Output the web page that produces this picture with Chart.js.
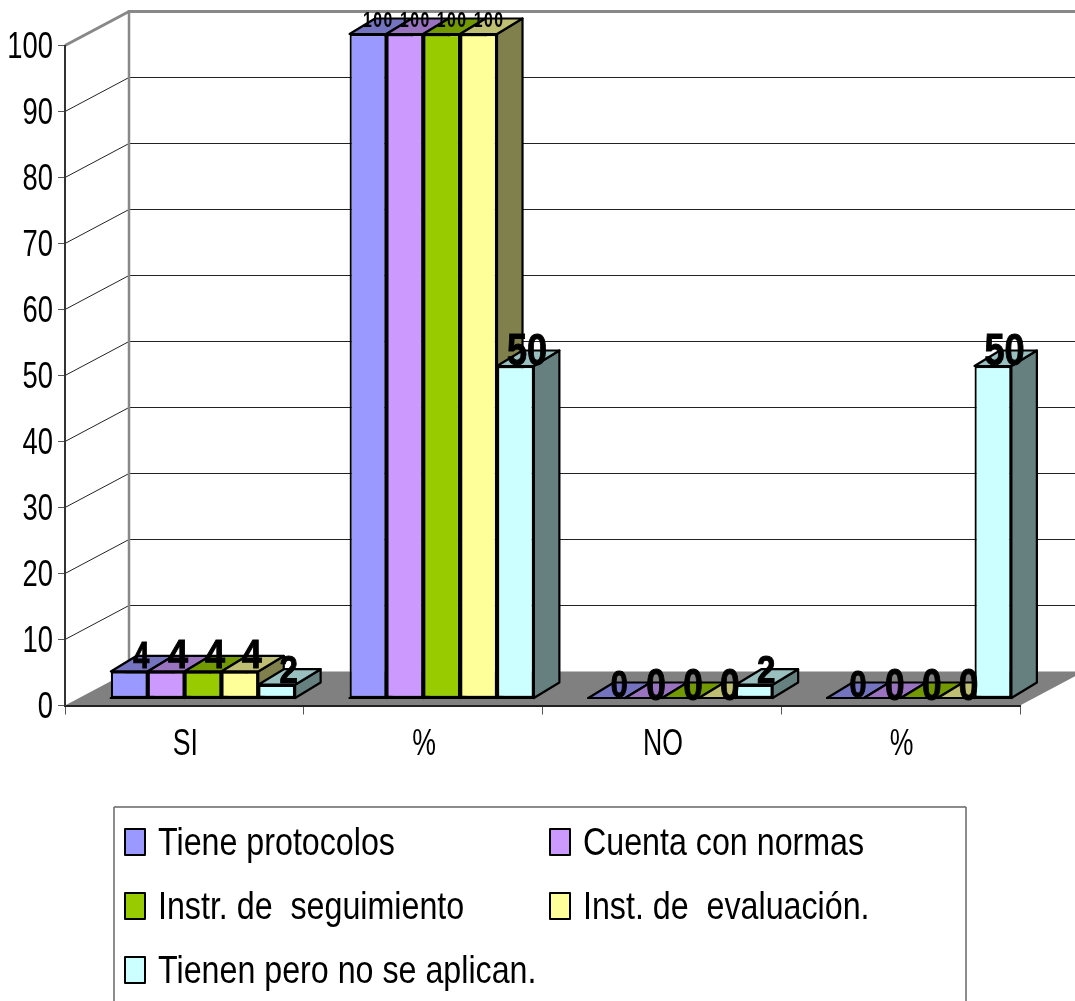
<!DOCTYPE html>
<html>
<head>
<meta charset="utf-8">
<style>html,body{margin:0;padding:0;background:#fff}canvas{display:block}</style>
<script src="https://cdn.jsdelivr.net/npm/chart.js@4"></script>
</head>
<body>
<canvas id="c" width="1075" height="1001"></canvas>
<script>
const categories = ['SI', '%', 'NO', '%'];
const tieneProtocolos = [4, 100, 0, 0];
const cuentaConNormas = [4, 100, 0, 0];
const instrSeguimiento = [4, 100, 0, 0];
const instEvaluacion = [4, 100, 0, 0];
const tienenNoAplican = [2, 50, 2, 50];
const seriesNames = ['Tiene protocolos', 'Cuenta con normas', 'Instr. de  seguimiento', 'Inst. de  evaluación.', 'Tienen pero no se aplican.'];
const seriesColors = ['#9999FF', '#CC99FF', '#99CC00', '#FFFF99', '#CCFFFF'];
const yTicks = [0, 10, 20, 30, 40, 50, 60, 70, 80, 90, 100];

const FONT = '"Liberation Sans", Arial, sans-serif';
const WALL = {dx: 64, dy: -34};        // depth of the chart box
const BAR = {dx: 18.6, dy: -7.5};      // where the bars sit on the floor
const DEPTH = {dx: 25.5, dy: -15.5};   // depth of each bar

function shade(hex, k) {
  const n = parseInt(hex.slice(1), 16);
  return 'rgb(' + [(n >> 16) & 255, (n >> 8) & 255, n & 255].map(v => Math.round(v * k)).join(',') + ')';
}
function squeezed(ctx, text, x, y, size, sx, align, bold, spacing) {
  ctx.save();
  ctx.translate(x, y);
  ctx.scale(sx, 1);
  ctx.font = (bold ? 'bold ' : '') + size + 'px ' + FONT;
  ctx.textAlign = align;
  ctx.textBaseline = 'alphabetic';
  ctx.fillStyle = '#000';
  if (spacing) ctx.letterSpacing = spacing + 'px';
  ctx.fillText(text, 0, 0);
  if (bold && !spacing) { ctx.strokeStyle = '#000'; ctx.lineWidth = 1; ctx.strokeText(text, 0, 0); }
  ctx.restore();
}
function poly(ctx, pts, fill, stroke, lw) {
  ctx.beginPath();
  pts.forEach((p, i) => i ? ctx.lineTo(p[0], p[1]) : ctx.moveTo(p[0], p[1]));
  ctx.closePath();
  if (fill) { ctx.fillStyle = fill; ctx.fill(); }
  if (stroke) { ctx.strokeStyle = stroke; ctx.lineWidth = lw; ctx.lineJoin = 'round'; ctx.stroke(); }
}
function line(ctx, x1, y1, x2, y2, color, lw) {
  ctx.beginPath(); ctx.moveTo(x1, y1); ctx.lineTo(x2, y2);
  ctx.strokeStyle = color; ctx.lineWidth = lw; ctx.stroke();
}
function labelStyle(value, ds) {
  if (value === 100) return {size: 22, sx: 0.72, off: 10.5, base: -7, spacing: 2};
  if (value === 50) return {size: 44, sx: 0.82, off: 11.5, base: -1};
  if (value === 4) return {size: ds === 0 ? 37 : 40, sx: ds === 0 ? 0.78 : 0.9, off: 12, base: -3};
  if (value === 2) return {size: 39, sx: 0.85, off: 12, base: -2};
  return {size: ds === 0 ? 36 : 44, sx: ds === 0 ? 0.85 : 0.8, off: 12.5, base: ds === 0 ? -1 : 2};
}

const box3d = {
  id: 'box3d',
  beforeDraw(chart) {
    const ctx = chart.ctx, y = chart.scales.y, a = chart.chartArea;
    const bottom = y.getPixelForValue(0), back = bottom + WALL.dy;
    ctx.save();
    poly(ctx, [[a.left, bottom], [a.right, bottom], [a.right + WALL.dx, back], [a.left + WALL.dx, back]], '#808080');
    y.ticks.forEach(t => {
      if (t.value === 0) return;
      const py = y.getPixelForValue(t.value);
      const top = t.value === 100;
      const c = top ? '#888' : '#222', w = top ? 3 : 1;
      line(ctx, a.left, py, a.left + WALL.dx, py + WALL.dy, c, w);
      line(ctx, a.left + WALL.dx, py + WALL.dy, 1075, py + WALL.dy, c, w);
    });
    line(ctx, a.left + WALL.dx, y.getPixelForValue(100) + WALL.dy - 1.5, a.left + WALL.dx, back, '#888', 2.5);
    ctx.restore();
  },
  beforeDatasetsDraw(chart) {
    // side and top faces, left to right; the library's bars then draw the front faces
    const ctx = chart.ctx, d = DEPTH;
    ctx.save();
    ctx.translate(BAR.dx, BAR.dy);
    chart.data.datasets.forEach((ds, di) => {
      const col = seriesColors[di];
      chart.getDatasetMeta(di).data.forEach(b => {
        const l = b.x - b.width / 2, r = b.x + b.width / 2, t = b.y, bt = b.base;
        poly(ctx, [[r, t], [r + d.dx, t + d.dy], [r + d.dx, bt + d.dy], [r, bt]], shade(col, 0.5), '#000', 2.2);
        poly(ctx, [[l, t], [l + d.dx, t + d.dy], [r + d.dx, t + d.dy], [r, t]], shade(col, 0.75), '#000', 2.2);
      });
    });
    ctx.restore();
  },
  beforeDatasetDraw(chart) {
    chart.ctx.save();
    chart.ctx.translate(BAR.dx, BAR.dy);
  },
  afterDatasetDraw(chart, args) {
    const ctx = chart.ctx;
    args.meta.data.forEach(b => {
      line(ctx, b.x - b.width / 2 - 1, b.base, b.x + b.width / 2 + 1, b.base, '#000', 2.2);
    });
    ctx.restore();
  },
  afterDraw(chart) {
    const ctx = chart.ctx, y = chart.scales.y, x = chart.scales.x;
    // axis labels
    y.ticks.forEach(t => squeezed(ctx, t.label, 53, y.getPixelForValue(t.value) + 12.5, 36, 0.76, 'right'));
    x.ticks.forEach((t, i) => squeezed(ctx, categories[i], x.getPixelForTick(i) + 1, 755, 36, 0.74, 'center'));
    // value labels
    chart.data.datasets.forEach((ds, di) => {
      chart.getDatasetMeta(di).data.forEach((b, i) => {
        const s = labelStyle(ds.data[i], di);
        squeezed(ctx, String(ds.data[i]), b.x + BAR.dx + s.off, b.y + BAR.dy + s.base, s.size, s.sx, 'center', true, s.spacing);
      });
    });
    // legend
    line(ctx, 114, 1001, 114, 807, '#666', 1.5);
    line(ctx, 114, 807, 966, 807, '#666', 1.5);
    line(ctx, 966, 807, 966, 1001, '#666', 1.5);
    const colX = [125, 550], rowY = [829, 893, 957];
    seriesNames.forEach((name, i) => {
      const sx = colX[i % 2], sy = rowY[Math.floor(i / 2)];
      poly(ctx, [[sx, sy], [sx + 20, sy], [sx + 20, sy + 26], [sx, sy + 26]], seriesColors[i], '#000', 2);
      squeezed(ctx, name, sx + 33, sy + 26, 39, 0.826, 'left');
    });
  }
};

new Chart(document.getElementById('c'), {
  type: 'bar',
  data: {
    labels: categories,
    datasets: [tieneProtocolos, cuentaConNormas, instrSeguimiento, instEvaluacion, tienenNoAplican].map((data, i) => ({
      label: seriesNames[i],
      data,
      yAxisID: 'yb',
      clip: false,
      backgroundColor: seriesColors[i],
      borderColor: '#000',
      borderWidth: 2.2,
      borderSkipped: false,
      categoryPercentage: 0.772,
      barPercentage: 1
    }))
  },
  plugins: [box3d],
  options: {
    responsive: false,
    animation: false,
    layout: {padding: {left: 0, top: 45.5, right: 55, bottom: 286.5}},
    plugins: {legend: {display: false}, tooltip: {enabled: false}},
    scales: {
      x: {
        type: 'category',
        afterFit: s => { s.height = 9; },
        border: {display: true, color: '#222', width: 2},
        grid: {display: true, drawOnChartArea: false, drawTicks: true, tickLength: 9, offset: true, color: '#555', tickWidth: 1},
        ticks: {display: false}
      },
      y: {
        type: 'linear', min: 0, max: 100,
        afterBuildTicks: s => { s.ticks = yTicks.map(value => ({value, label: String(value)})); },
        afterFit: s => { s.width = 65; },
        border: {display: true, color: '#333', width: 2},
        grid: {display: true, drawOnChartArea: false, drawTicks: true, tickLength: 7, color: '#555', tickWidth: 1},
        ticks: {display: false}
      },
      yb: {type: 'linear', min: 0, max: 99.4, display: false}
    }
  }
});
</script>
</body>
</html>
